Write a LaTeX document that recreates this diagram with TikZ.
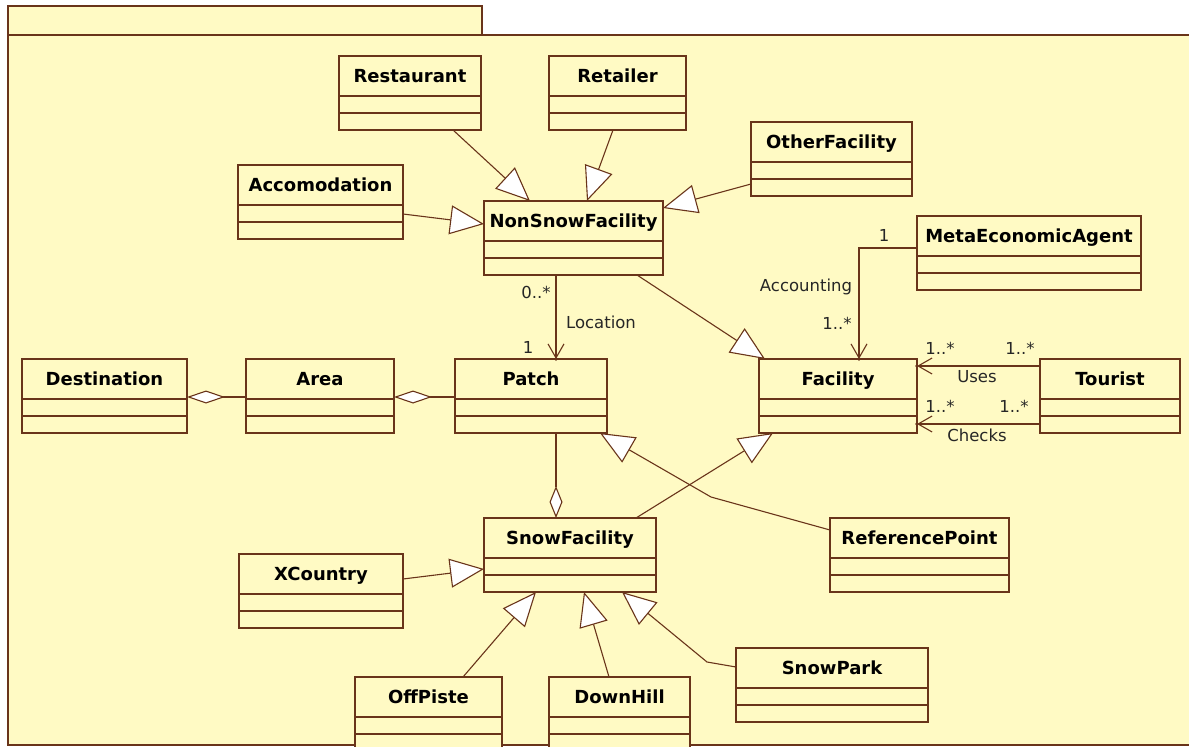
\documentclass[tikz,border=0pt]{standalone}
\usepackage{fontspec}
\setmainfont{DejaVu Sans}
\usetikzlibrary{arrows.meta,calc}
\definecolor{paper}{RGB}{255,250,196}
\definecolor{ink}{RGB}{105,52,26}

\tikzset{
  boxline/.style={draw=ink, line width=1.6pt},
  classbox/.style={boxline, fill=paper, anchor=north west, minimum height=74pt,
    inner sep=0pt, outer sep=0pt},
  classname/.style={font=\bfseries\fontsize{18}{21}\selectfont, anchor=base, inner sep=0pt},
  tag/.style={font=\fontsize{16.5}{19}\selectfont, inner sep=0pt, text=black!85},
  link/.style={draw=ink, line width=1.1pt},
  inherit/.style={link, -{Triangle[fill=white, length=34pt, width=29pt]}},
  holds/.style={link, {Diamond[fill=white, length=38pt, width=13pt]}-},
  holdsend/.style={link, -{Diamond[fill=white, length=32pt, width=13pt]}},
  navig/.style={link, -{Straight Barb[length=14pt, width=16pt]}},
}

% class box: name, title, left, top, width (three compartments)
\newcommand\umlclass[5]{%
  \node[classbox, minimum width=#5pt] (#1) at (#3,#4) {};
  \node[classname] (#1-name) at ($(#1.north)+(0,26)$) {#2};
  \draw[boxline] ($(#1.north west)+(0,40)$) -- ($(#1.north east)+(0,40)$);
  \draw[boxline] ($(#1.north west)+(0,57)$) -- ($(#1.north east)+(0,57)$);
}

\begin{document}
\begin{tikzpicture}[x=1pt, y=-1pt]
\useasboundingbox (0,0) rectangle (1189,747);
\clip (0,0) rectangle (1189,747);

% package frame with its tab
\draw[boxline, fill=paper] (8,6) rectangle (482,35);
\draw[boxline, fill=paper] (8,35) rectangle (1210,745);

% classes
\umlclass{rest}{Restaurant}{339}{56}{142}
\umlclass{retail}{Retailer}{549}{56}{137}
\umlclass{other}{OtherFacility}{751}{122}{161}
\umlclass{accom}{Accomodation}{238}{165}{165}
\umlclass{nsf}{NonSnowFacility}{484}{201}{179}
\umlclass{meta}{MetaEconomicAgent}{917}{216}{224}
\umlclass{dest}{Destination}{22}{359}{165}
\umlclass{area}{Area}{246}{359}{148}
\umlclass{patch}{Patch}{455}{359}{152}
\umlclass{fac}{Facility}{759}{359}{158}
\umlclass{tour}{Tourist}{1040}{359}{140}
\umlclass{snow}{SnowFacility}{484}{518}{172}
\umlclass{xc}{XCountry}{239}{554}{164}
\umlclass{refp}{ReferencePoint}{830}{518}{179}
\umlclass{park}{SnowPark}{736}{648}{192}
\umlclass{off}{OffPiste}{355}{677}{147}
\umlclass{down}{DownHill}{549}{677}{141}

% generalizations
\draw[inherit] ($(rest.south west)+(114,0)$) -- ($(nsf.north west)+(46,0)$);
\draw[inherit] ($(retail.south west)+(64,0)$) -- ($(nsf.north west)+(103,0)$);
\draw[inherit] ($(accom.north east)+(0,49)$) -- ($(nsf.north west)+(0,23)$);
\draw[inherit] ($(other.north west)+(0,62)$) -- ($(nsf.north east)+(0,7)$);
\draw[inherit] ($(nsf.south west)+(153,0)$) -- ($(fac.north west)+(6,0)$);
\draw[inherit] ($(snow.north west)+(152,0)$) -- ($(fac.south west)+(14,0)$);
\coordinate (refbend) at (711,497);
\draw[inherit] ($(refp.north west)+(0,12)$) -- (refbend) -- ($(patch.south east)+(-7,0)$);
\draw[inherit] ($(xc.north east)+(0,25)$) -- ($(snow.north west)+(0,51)$);
\draw[inherit] ($(off.north west)+(108,0)$) -- ($(snow.south west)+(52,0)$);
\draw[inherit] ($(down.north west)+(60,0)$) -- ($(snow.south west)+(100,0)$);
\coordinate (parkbend) at (707,662);
\draw[inherit] ($(park.north west)+(0,19)$) -- (parkbend) -- ($(snow.south west)+(138,0)$);

% aggregations
\draw[holds] ($(dest.north east)+(0,38)$) -- ($(area.north west)+(0,38)$);
\draw[holds] ($(area.north east)+(0,38)$) -- ($(patch.north west)+(0,38)$);
\draw[holdsend] ($(patch.south west)+(101,0)$) -- ($(snow.north west)+(72,0)$);

% navigable associations
\coordinate (locEnd) at ($(patch.north west)+(101,0)$);
\draw[navig] ($(nsf.south west)+(72,0)$) -- (locEnd);
\coordinate (accEnd) at ($(fac.north west)+(100,0)$);
\draw[navig] ($(meta.north west)+(0,32)$) -| (accEnd);
\coordinate (usesEnd) at ($(fac.north east)+(0,7)$);
\draw[navig] ($(tour.north west)+(0,7)$) -- (usesEnd);
\coordinate (checksEnd) at ($(fac.north east)+(0,65)$);
\draw[navig] ($(tour.north west)+(0,65)$) -- (checksEnd);
\foreach \p in {locEnd,accEnd,usesEnd,checksEnd}
  \fill[ink] (\p) circle (1.8pt);

% association labels
\node[tag] (locSrc) at (536,292) {0..*};
\node[tag] (locName) at (601,322) {Location};
\node[tag] (locDst) at (528,347) {1};
\node[tag] (accSrc) at (884,235) {1};
\node[tag] (accName) at (806,287) {Accounting};
\node[tag] (accDst) at (837,323) {1..*};
\node[tag] (usesDst) at (940,348) {1..*};
\node[tag] (usesSrc) at (1020,348) {1..*};
\node[tag] (usesName) at (977,377) {Uses};
\node[tag] (chkDst) at (940,406) {1..*};
\node[tag] (chkSrc) at (1014,406) {1..*};
\node[tag] (chkName) at (977,435) {Checks};
\end{tikzpicture}
\end{document}
